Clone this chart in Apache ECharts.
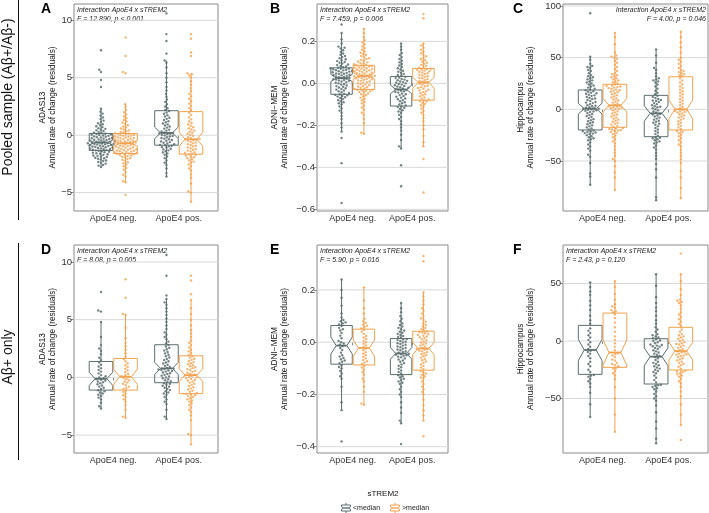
<!DOCTYPE html>
<html><head><meta charset="utf-8">
<script src="https://cdn.jsdelivr.net/npm/echarts@6/dist/echarts.min.js"></script>
<style>html,body{margin:0;padding:0;background:#fff}#c{width:709px;height:513px}</style>
</head><body><div id="c"></div>
<script>
// ---------- categories / labels ----------
const groupNames = ['ApoE4 neg.', 'ApoE4 pos.'];
const legendTitle = 'sTREM2';
const legendLabels = ['<median', '>median'];
const rowLabels = ['Pooled sample (A\u03b2+/A\u03b2-)', 'A\u03b2+ only'];
const yTitles = ['ADAS13', 'ADNI\u2212MEM', 'Hippocampus'];
const yTitleSub = 'Annual rate of change (residuals)';
const annTitle = 'Interaction ApoE4 x sTREM2';
const annStats = ['F = 12.890, p < 0.001', 'F = 7.459, p = 0.006', 'F = 4.00, p = 0.046',
                  'F = 8.08, p = 0.005', 'F = 5.90, p = 0.016', 'F = 2.43, p = 0.120'];
const panelLetters = ['A', 'B', 'C', 'D', 'E', 'F'];

// ---------- tick values ----------
const ticksAdas = [-5, 0, 5, 10];
const ticksMem = [-0.6, -0.4, -0.2, 0, 0.2];
const ticksMemE = [-0.4, -0.2, 0, 0.2];
const ticksHippoC = [-50, 0, 50, 100];
const ticksHippoF = [-50, 0, 50];

// ---------- A: ADAS13, pooled ----------
const aNegLow = [-2.78,-2.65,-2.6,-2.48,-2.41,-2.33,-2.25,-2.2,-2.12,-2.05,-2.01,-1.96,-1.9,-1.86,-1.8,-1.77,-1.71,-1.66,-1.62,-1.57,-1.52,-1.48,-1.44,-1.4,-1.36,
 -1.32,-1.3,-1.26,-1.23,-1.2,-1.17,-1.15,-1.11,-1.08,-1.05,-1.02,-0.99,-0.96,-0.94,-0.91,-0.88,-0.85,-0.82,-0.8,-0.77,-0.75,-0.72,-0.7,-0.68,-0.66,
 -0.63,-0.6,-0.57,-0.55,-0.52,-0.49,-0.46,-0.42,-0.4,-0.37,-0.33,-0.3,-0.27,-0.24,-0.2,-0.17,-0.13,-0.1,-0.06,-0.03,0.01,0.04,0.07,0.1,0.13,
 0.18,0.22,0.27,0.36,0.42,0.48,0.55,0.61,0.7,0.78,0.86,0.95,1.04,1.15,1.27,1.4,1.55,1.7,1.88,2.05,2.3,4.2,4.8,5.5,5.7,7.4];
const aNegHigh = [-5.2,-4.1,-4.0,-3.6,-3.45,-3.2,-3.0,-2.85,-2.7,-2.55,-2.45,-2.35,-2.25,-2.15,-2.08,-2.0,-1.93,-1.88,-1.82,-1.77,-1.72,-1.68,-1.65,-1.62,-1.6,
 -1.57,-1.53,-1.5,-1.47,-1.43,-1.4,-1.36,-1.33,-1.3,-1.26,-1.22,-1.19,-1.15,-1.12,-1.08,-1.04,-1.0,-0.97,-0.93,-0.9,-0.86,-0.82,-0.79,-0.75,-0.72,
 -0.69,-0.66,-0.62,-0.59,-0.55,-0.52,-0.48,-0.45,-0.41,-0.38,-0.34,-0.31,-0.27,-0.24,-0.2,-0.17,-0.13,-0.1,-0.06,-0.03,0.0,0.04,0.07,0.1,0.13,
 0.18,0.23,0.29,0.35,0.42,0.5,0.58,0.67,0.76,0.86,0.97,1.08,1.2,1.33,1.47,1.62,1.8,2.0,2.2,2.45,2.7,5.4,5.5,6.9,8.5];
const aPosLow = [-3.6,-3.3,-2.9,-2.6,-2.4,-2.2,-2.0,-1.85,-1.7,-1.6,-1.5,-1.4,-1.32,-1.25,-1.18,-1.1,-1.03,-0.97,-0.92,-0.88,
 -0.84,-0.78,-0.72,-0.66,-0.6,-0.54,-0.48,-0.42,-0.36,-0.3,-0.24,-0.18,-0.12,-0.07,-0.02,0.04,0.09,0.13,0.16,0.19,
 0.23,0.32,0.4,0.48,0.57,0.66,0.75,0.84,0.93,1.02,1.12,1.22,1.32,1.42,1.52,1.62,1.74,1.86,1.98,2.1,
 2.2,2.35,2.5,2.7,2.9,3.1,3.35,3.6,3.9,4.2,4.6,5.0,5.4,5.9,6.3,6.5,7.1,8.2,8.8,10.6];
const aPosHigh = [-5.8,-5.0,-4.9,-4.2,-3.7,-3.4,-3.1,-2.9,-2.7,-2.55,-2.4,-2.3,-2.2,-2.1,-2.0,-1.92,-1.85,-1.78,-1.72,-1.67,
 -1.62,-1.55,-1.48,-1.41,-1.34,-1.27,-1.2,-1.13,-1.06,-0.99,-0.92,-0.85,-0.78,-0.71,-0.64,-0.57,-0.5,-0.45,-0.4,-0.36,
 -0.33,-0.24,-0.15,-0.06,0.03,0.12,0.21,0.3,0.4,0.5,0.6,0.7,0.82,0.94,1.06,1.2,1.38,1.55,1.75,1.95,
 2.15,2.35,2.55,2.75,2.95,3.15,3.4,3.6,3.85,4.1,4.4,4.7,5.0,5.2,5.3,5.4,6.9,7.2,8.4,8.8];
// box stats: [lower whisker, q1, median, q3, upper whisker, notch low, notch high]
const aBoxNegLow = [-2.8, -1.33, -0.64, 0.15, 2.3, -0.85, -0.43];
const aBoxNegHigh = [-4.1, -1.6, -0.7, 0.15, 2.7, -0.95, -0.45];
const aBoxPosLow = [-3.6, -0.87, 0.2, 2.13, 6.5, -0.3, 0.7];
const aBoxPosHigh = [-5.8, -1.65, -0.35, 2.05, 5.4, -0.95, 0.25];

// ---------- B: ADNI-MEM, pooled ----------
const bNegLow = [-0.57,-0.38,-0.26,-0.23,-0.21,-0.19,-0.17,-0.155,-0.14,-0.13,-0.12,-0.11,-0.1,-0.095,-0.09,-0.085,-0.08,-0.075,-0.07,-0.066,-0.063,-0.06,-0.057,-0.055,-0.053,
 -0.05,-0.046,-0.042,-0.038,-0.034,-0.03,-0.027,-0.023,-0.02,-0.016,-0.013,-0.01,-0.006,-0.003,0.0,0.003,0.006,0.009,0.012,0.014,0.016,0.018,0.02,0.022,0.024,
 0.026,0.029,0.031,0.033,0.036,0.038,0.04,0.041,0.044,0.046,0.047,0.05,0.052,0.053,0.056,0.058,0.059,0.062,0.063,0.065,0.067,0.069,0.07,0.072,0.074,
 0.077,0.08,0.083,0.087,0.09,0.094,0.098,0.102,0.106,0.11,0.115,0.12,0.125,0.13,0.136,0.142,0.15,0.158,0.166,0.17,0.175,0.19,0.21,0.24,0.28];
const bNegHigh = [-0.24,-0.235,-0.19,-0.17,-0.15,-0.14,-0.125,-0.115,-0.105,-0.095,-0.088,-0.08,-0.074,-0.068,-0.062,-0.057,-0.052,-0.048,-0.044,-0.041,-0.038,-0.035,-0.033,-0.031,-0.03,
 -0.027,-0.024,-0.021,-0.018,-0.015,-0.012,-0.009,-0.006,-0.003,0.0,0.003,0.006,0.009,0.012,0.014,0.017,0.019,0.021,0.024,0.026,0.028,0.03,0.031,0.033,0.034,
 0.036,0.038,0.04,0.042,0.045,0.047,0.049,0.051,0.054,0.056,0.058,0.06,0.062,0.064,0.066,0.068,0.07,0.072,0.074,0.076,0.078,0.08,0.082,0.084,0.085,
 0.088,0.091,0.094,0.097,0.1,0.104,0.108,0.112,0.116,0.12,0.125,0.13,0.135,0.14,0.146,0.152,0.16,0.168,0.176,0.185,0.195,0.205,0.22,0.24,0.26];
const bPosLow = [-0.49,-0.39,-0.31,-0.3,-0.27,-0.245,-0.225,-0.21,-0.195,-0.18,-0.17,-0.16,-0.15,-0.14,-0.134,-0.128,-0.122,-0.117,-0.113,-0.11,
 -0.105,-0.1,-0.095,-0.09,-0.085,-0.08,-0.076,-0.072,-0.068,-0.064,-0.06,-0.056,-0.052,-0.048,-0.044,-0.041,-0.038,-0.035,-0.032,-0.03,
 -0.027,-0.024,-0.021,-0.018,-0.015,-0.012,-0.009,-0.006,-0.003,0.0,0.003,0.006,0.009,0.012,0.015,0.018,0.021,0.025,0.028,0.031,
 0.036,0.04,0.045,0.05,0.055,0.06,0.066,0.072,0.078,0.085,0.092,0.1,0.108,0.116,0.125,0.135,0.145,0.16,0.175,0.19];
const bPosHigh = [-0.52,-0.36,-0.3,-0.28,-0.25,-0.22,-0.2,-0.18,-0.165,-0.15,-0.14,-0.13,-0.12,-0.11,-0.104,-0.098,-0.092,-0.087,-0.084,-0.081,
 -0.077,-0.072,-0.067,-0.062,-0.057,-0.052,-0.047,-0.042,-0.038,-0.034,-0.03,-0.026,-0.022,-0.018,-0.014,-0.01,-0.006,-0.002,0.002,0.004,
 0.008,0.012,0.016,0.02,0.024,0.027,0.031,0.034,0.038,0.041,0.045,0.048,0.052,0.055,0.058,0.061,0.064,0.066,0.068,0.07,
 0.074,0.078,0.083,0.088,0.093,0.098,0.104,0.11,0.116,0.122,0.129,0.136,0.144,0.152,0.16,0.17,0.18,0.19,0.31,0.33];
const bBoxNegLow = [-0.23, -0.052, 0.025, 0.074, 0.24, 0.008, 0.043];
const bBoxNegHigh = [-0.24, -0.029, 0.035, 0.086, 0.26, 0.02, 0.052];
const bBoxPosLow = [-0.31, -0.108, -0.029, 0.033, 0.19, -0.05, -0.008];
const bBoxPosHigh = [-0.30, -0.08, 0.005, 0.071, 0.19, -0.024, 0.028];

// ---------- C: Hippocampus, pooled ----------
const cNegLow = [-73,-65,-62,-52,-46,-44,-40,-38,-36,-34,-32,-30,-29,-28,-27,-26,-25,-24,-23.5,-23,-22.5,-22,-21.5,-21,-20.5,
 -19.5,-18.5,-17.5,-16.5,-15.5,-14.5,-13.5,-12.5,-11.5,-10.5,-9.5,-8.5,-7.5,-6.5,-5.5,-4.5,-3.5,-2.5,-2,-1.5,-1,-0.5,0,0.3,0.5,
 1,1.5,2,3,3.5,4,5,6,6.5,7,8,9,10,10.5,11,12,13,13.5,14,15,15.5,16,17,17.5,18.5,
 19,20,21,22,23,24,25,26,27,28,29,30,31,32,33,35,37,38,40,41,42,44,48,51,93];
const cNegHigh = [-78,-66,-61,-55,-50,-48,-45,-42,-39,-36,-33,-31,-29,-27,-25.5,-24,-23,-22,-21,-20.5,-20,-19.5,-19,-18.5,-18,
 -17,-16,-15,-14,-13,-12,-11,-10,-9,-8,-7,-6,-5,-4,-3,-2,-1,0,0.5,1,1.5,2,2.5,3,3.5,
 4.5,5.5,6.5,7.5,8.5,9.5,10.5,11.5,12.5,13.5,14.5,15.5,16.5,17,18,18.5,19,20,20.5,21,21.5,22,22.5,23,24,
 25,26,27,28,29,30,31,32,33,34,35,37,39,41,43,45,47,49,50,51,52,55,63,70,74];
const cPosLow = [-88,-85,-66,-58,-53,-48,-45,-42,-39,-37,-35,-33,-32,-31,-30,-29,-28,-27.5,-27,
 -25.5,-24,-22.5,-21,-19.5,-18,-16.5,-15,-14,-13,-12,-11,-10,-9,-8,-7,-6,-5,-4.5,
 -3,-2,-1,0,1,2,2.5,3,4,5,6,7,8,8.5,9,10,11,12,13,
 14.5,16,18,20,22,24,26,27,28,29,30,32,35,38,40,45,52,58];
const cPosHigh = [-86,-76,-66,-60,-52,-48,-45,-42,-39,-36,-34,-32,-30,-28,-26,-24.5,-23,-22,-21,
 -19,-17.5,-16,-14.5,-13,-11.5,-10,-9,-8,-7,-6,-5,-4,-3,-2.5,-2,-1.5,-1,-0.5,
 1,2.5,4,5.5,7,8.5,10,11.5,13,14.5,16,17.5,19,20.5,22,24,26,28,30,
 32,33,34,35,36,37,38,40,42,44,46,48,50,55,60,65,70,75];
const cBoxNegLow = [-73, -20, 0.6, 18.7, 51, -4.5, 5.8];
const cBoxNegHigh = [-78, -17.4, 3.9, 24.2, 74, -2.5, 10.5];
const cBoxPosLow = [-88, -26.5, -3.9, 13.5, 58, -11.5, 3.5];
const cBoxPosHigh = [-86, -20, 0, 31.5, 75, -9, 9];

// ---------- D: ADAS13, Abeta+ only ----------
const dNegLow = [-2.7,-2.5,-2.2,-1.9,-1.75,-1.6,-1.5,-1.4,-1.3,-1.2,-1.12,
 -1.0,-0.9,-0.8,-0.7,-0.6,-0.5,-0.42,-0.35,-0.28,-0.2,-0.14,
 -0.08,0.0,0.1,0.2,0.35,0.5,0.65,0.8,0.95,1.1,1.3,
 1.5,1.7,2.0,2.3,2.5,2.8,3.5,4.8,5.7,5.8,7.4];
const dNegHigh = [-3.5,-3.4,-2.8,-2.4,-2.1,-1.9,-1.7,-1.55,-1.4,-1.25,-1.15,
 -1.0,-0.9,-0.8,-0.65,-0.55,-0.45,-0.35,-0.25,-0.15,-0.05,0.03,
 0.1,0.2,0.3,0.45,0.6,0.75,0.9,1.05,1.2,1.4,1.6,
 1.8,2.1,2.4,2.7,3.0,3.4,4.3,5.4,5.5,6.9,8.5];
const dPosLow = [-3.6,-3.4,-2.8,-2.3,-2.1,-1.9,-1.7,-1.5,-1.4,-1.3,-1.2,-1.1,-1.0,-0.9,-0.8,-0.72,-0.64,-0.56,-0.5,
 -0.4,-0.32,-0.24,-0.16,-0.08,0.0,0.08,0.15,0.22,0.29,0.36,0.43,0.5,0.55,0.6,0.64,0.68,0.72,0.76,
 0.82,0.9,1.0,1.1,1.2,1.3,1.4,1.5,1.6,1.72,1.84,1.96,2.08,2.2,2.32,2.44,2.56,2.68,2.8,
 2.95,3.1,3.3,3.5,3.7,3.9,4.2,4.5,4.8,5.1,5.4,5.7,6.0,6.3,6.5,6.8,7.1,8.8,10.6];
const dPosHigh = [-5.8,-5.0,-4.9,-3.7,-3.3,-3.0,-2.8,-2.6,-2.4,-2.25,-2.1,-2.0,-1.9,-1.8,-1.7,-1.62,-1.55,-1.48,-1.43,
 -1.35,-1.25,-1.15,-1.05,-0.95,-0.85,-0.75,-0.65,-0.55,-0.45,-0.35,-0.27,-0.2,-0.13,-0.06,0.0,0.06,0.12,0.17,
 0.24,0.32,0.4,0.48,0.56,0.64,0.72,0.8,0.88,0.96,1.05,1.14,1.23,1.32,1.42,1.52,1.62,1.72,1.84,
 1.95,2.1,2.25,2.4,2.6,2.8,3.0,3.2,3.5,3.8,4.1,4.5,5.0,5.5,6.0,6.7,7.2,8.4,8.8];
const dBoxNegLow = [-2.7, -1.1, -0.12, 1.38, 4.8, -0.7, 0.45];
const dBoxNegHigh = [-3.5, -1.1, 0.06, 1.64, 5.5, -0.6, 0.7];
const dBoxPosLow = [-3.6, -0.46, 0.78, 2.83, 6.8, 0.25, 1.3];
const dBoxPosHigh = [-5.8, -1.41, 0.2, 1.87, 6.7, -0.35, 0.75];

// ---------- E: ADNI-MEM, Abeta+ only ----------
const eNegLow = [-0.38,-0.26,-0.23,-0.17,-0.14,-0.13,-0.12,-0.11,-0.1,-0.095,-0.088,
 -0.08,-0.075,-0.07,-0.065,-0.06,-0.055,-0.05,-0.04,-0.03,-0.022,-0.015,
 -0.01,-0.005,0.0,0.005,0.015,0.025,0.035,0.045,0.05,0.055,0.062,
 0.068,0.072,0.076,0.08,0.085,0.095,0.11,0.14,0.17,0.2,0.24];
const eNegHigh = [-0.24,-0.235,-0.19,-0.17,-0.15,-0.14,-0.125,-0.115,-0.105,-0.097,-0.09,
 -0.083,-0.078,-0.073,-0.068,-0.062,-0.056,-0.05,-0.044,-0.038,-0.031,-0.025,
 -0.018,-0.012,-0.006,0.0,0.006,0.012,0.018,0.024,0.032,0.04,0.047,
 0.053,0.058,0.063,0.068,0.074,0.08,0.09,0.11,0.13,0.16,0.21];
const ePosLow = [-0.39,-0.31,-0.3,-0.27,-0.25,-0.23,-0.21,-0.2,-0.19,-0.18,-0.17,-0.16,-0.155,-0.15,-0.145,-0.14,-0.135,-0.13,-0.126,
 -0.12,-0.114,-0.108,-0.102,-0.096,-0.09,-0.085,-0.08,-0.075,-0.07,-0.066,-0.062,-0.058,-0.055,-0.052,-0.05,-0.048,-0.046,-0.044,
 -0.04,-0.037,-0.034,-0.031,-0.028,-0.025,-0.022,-0.019,-0.016,-0.013,-0.01,-0.007,-0.004,-0.001,0.002,0.005,0.008,0.01,0.012,
 0.017,0.02,0.024,0.028,0.032,0.036,0.04,0.045,0.05,0.055,0.06,0.066,0.072,0.08,0.09,0.1,0.115,0.13,0.15];
const ePosHigh = [-0.36,-0.3,-0.28,-0.26,-0.24,-0.22,-0.2,-0.19,-0.18,-0.17,-0.16,-0.15,-0.14,-0.135,-0.13,-0.125,-0.12,-0.115,-0.11,
 -0.103,-0.097,-0.091,-0.085,-0.079,-0.074,-0.069,-0.064,-0.059,-0.054,-0.05,-0.046,-0.042,-0.038,-0.035,-0.032,-0.029,-0.027,-0.025,
 -0.021,-0.017,-0.013,-0.009,-0.005,-0.001,0.003,0.007,0.011,0.015,0.019,0.022,0.025,0.028,0.031,0.034,0.037,0.039,0.041,
 0.045,0.05,0.055,0.06,0.066,0.072,0.078,0.085,0.092,0.1,0.11,0.12,0.13,0.145,0.16,0.175,0.19,0.31,0.33];
const eBoxNegLow = [-0.26, -0.084, -0.013, 0.064, 0.24, -0.045, 0.02];
const eBoxNegHigh = [-0.24, -0.087, -0.022, 0.05, 0.21, -0.055, 0.008];
const eBoxPosLow = [-0.31, -0.124, -0.043, 0.014, 0.15, -0.065, -0.02];
const eBoxPosHigh = [-0.30, -0.107, -0.024, 0.042, 0.19, -0.048, 0.0];

// ---------- F: Hippocampus, Abeta+ only ----------
const fNegLow = [-66,-55,-45,-40,-37,-35,-33,-31,-30,-29.5,
 -27,-25,-22,-20,-18,-15,-13,-11,-9.5,-8.5,
 -7,-5,-3,-1,1,3,5,7,9,11,
 15,18,22,27,31,35,40,43,47,51];
const fNegHigh = [-79,-64,-50,-40,-33,-30,-28,-26,-24,-23.5,
 -22,-21,-20,-19,-17,-16,-14,-12.5,-11.5,-10.5,
 -8,-5,-2,1,4,8,12,16,20,23,
 25,26,27,29,30,32,36,41,47,52];
const fPosLow = [-89,-85,-76,-70,-62,-56,-52,-50,-48,-46,-44,-42,-41,-40,-39,-38.5,-38,
 -36,-34,-32,-30,-28,-27,-26,-25,-24,-23,-22,-21,-20,-19,-18,-16.5,-15,-14,
 -13,-12,-11,-10,-9,-8,-7,-6,-5,-4.5,-4,-3.5,-3,-2,-1,0,0.5,1.5,
 2.5,3,4,5,6,8,10,12,15,18,22,26,29,33,38,48,58];
const fPosHigh = [-86,-73,-64,-55,-48,-44,-40,-37,-35,-33,-31,-30,-29,-28,-27,-26.5,-26,
 -24,-22.5,-21,-20,-19,-18,-17,-16,-15,-14,-13,-12.5,-12,-11.5,-11,-10,-9.5,-9,
 -8,-7,-6,-5,-4,-3,-2.5,-2,-1,0,1,2,3,4,5,6,8,10,
 13,15,17,19,21,23,25,28,31,33,34,35,36,40,45,52,58,76];
const fBoxNegLow = [-66, -29, -7.8, 13.6, 51, -17, 1.5];
const fBoxNegHigh = [-79, -22.9, -10, 24.3, 52, -21, 1];
const fBoxPosLow = [-89, -37.4, -13.6, 2, 58, -21.5, -6];
const fBoxPosHigh = [-73, -25.2, -8.7, 11.9, 58, -16.5, -1];

// ---------- styling / layout ----------
const COLS = ['#5b6e6e', '#f2a24f'];
const PT_COLS = ['#5a6d6d', '#f4a85a'];
const FONT = "'Liberation Sans', Arial, Helvetica, sans-serif";
const GROUP_X = [0.8125, 1.1875, 1.8125, 2.1875];
const BOXW = 0.36;
const SPACING = 2.9;

const panels = [
  {left:74, top:4, width:144, height:207, min:-6.6, max:11.42, ticks:ticksAdas, dec:0, yt:0, gap:15, annRight:false,
   pts:[aNegLow,aNegHigh,aPosLow,aPosHigh], box:[aBoxNegLow,aBoxNegHigh,aBoxPosLow,aBoxPosHigh], lx:41, ly:2},
  {left:317, top:4, width:131, height:207, min:-0.608, max:0.378, ticks:ticksMem, dec:1, yt:1, gap:28, annRight:false,
   pts:[bNegLow,bNegHigh,bPosLow,bPosHigh], box:[bBoxNegLow,bBoxNegHigh,bBoxPosLow,bBoxPosHigh], lx:270, ly:2},
  {left:563, top:4, width:145, height:207, min:-98.4, max:101.9, ticks:ticksHippoC, dec:0, yt:2, gap:28, annRight:true,
   pts:[cNegLow,cNegHigh,cPosLow,cPosHigh], box:[cBoxNegLow,cBoxNegHigh,cBoxPosLow,cBoxPosHigh], lx:513, ly:2},
  {left:74, top:245, width:144, height:208, min:-6.55, max:11.47, ticks:ticksAdas, dec:0, yt:0, gap:15, annRight:false,
   pts:[dNegLow,dNegHigh,dPosLow,dPosHigh], box:[dBoxNegLow,dBoxNegHigh,dBoxPosLow,dBoxPosHigh], lx:41, ly:243},
  {left:317, top:245, width:131, height:208, min:-0.424, max:0.372, ticks:ticksMemE, dec:1, yt:1, gap:28, annRight:false,
   pts:[eNegLow,eNegHigh,ePosLow,ePosHigh], box:[eBoxNegLow,eBoxNegHigh,eBoxPosLow,eBoxPosHigh], lx:270, ly:243},
  {left:563, top:245, width:145, height:208, min:-97.4, max:83.5, ticks:ticksHippoF, dec:0, yt:2, gap:28, annRight:false,
   pts:[fNegLow,fNegHigh,fPosLow,fPosHigh], box:[fBoxNegLow,fBoxNegHigh,fBoxPosLow,fBoxPosHigh], lx:513, ly:243}
];

function fmt(v, dec) {
  const s = Math.abs(v).toFixed(dec);
  return (v < -1e-9 ? '\u2212' : '') + s;
}

// beeswarm layout in pixel space (returns horizontal pixel offsets)
function swarm(ys, d) {
  const idx = ys.map((v, i) => i).sort((a, b) => ys[a] - ys[b]);
  const placed = [];
  const out = new Array(ys.length);
  idx.forEach(i => {
    const y = ys[i];
    const near = placed.filter(p => Math.abs(p.y - y) < d);
    const cands = [0];
    near.forEach(p => {
      const dx = Math.sqrt(Math.max(0, d * d - (p.y - y) * (p.y - y)));
      cands.push(p.x + dx, p.x - dx);
    });
    cands.sort((a, b) => Math.abs(a) - Math.abs(b) || a - b);
    let best = 0;
    for (const c of cands) {
      if (near.every(p => (p.x - c) * (p.x - c) + (p.y - y) * (p.y - y) >= d * d - 1e-6)) { best = c; break; }
    }
    placed.push({x: best, y});
    out[i] = best;
  });
  return out;
}

const grid = [], xAxis = [], yAxis = [], series = [], graphic = [];

panels.forEach((p, i) => {
  grid.push({left: p.left, top: p.top, width: p.width, height: p.height, show: true,
    borderColor: '#8a8a8a', borderWidth: 1, backgroundColor: 'rgba(0,0,0,0)'});
  xAxis.push({type: 'value', gridIndex: i, min: 0.4, max: 2.6,
    axisLine: {show: false}, splitLine: {show: false},
    axisTick: {show: true, customValues: [1, 2], length: 3, lineStyle: {color: '#8a8a8a'}},
    axisLabel: {customValues: [1, 2], formatter: v => groupNames[Math.round(v) - 1],
      fontSize: 9, fontFamily: FONT, color: '#333', margin: 3}});
  yAxis.push({type: 'value', gridIndex: i, min: p.min, max: p.max,
    axisLine: {show: false}, splitLine: {show: false},
    axisTick: {show: true, customValues: p.ticks, length: 3, lineStyle: {color: '#8a8a8a'}},
    axisLabel: {customValues: p.ticks, formatter: v => fmt(v, p.dec), fontSize: 9.5, fontFamily: FONT, color: '#333', margin: 2},
    name: yTitles[p.yt] + '\n' + yTitleSub, nameLocation: 'middle', nameRotate: 90, nameGap: p.gap,
    nameTextStyle: {fontSize: 8.3, lineHeight: 9.5, fontFamily: FONT, color: '#111', align: 'center'}});

  // horizontal grid lines at the tick values
  series.push({type: 'custom', xAxisIndex: i, yAxisIndex: i, silent: true, z: 1,
    data: p.ticks.map(t => [1.5, t]),
    renderItem: (params, api) => {
      const a = api.coord([0.4, api.value(1)]);
      const b = api.coord([2.6, api.value(1)]);
      return {type: 'line', shape: {x1: a[0], y1: a[1], x2: b[0], y2: b[1]},
        style: {stroke: '#d9d9d9', lineWidth: 1}};
    }});

  // beeswarm points
  const pxPerX = p.width / 2.2, pxPerY = p.height / (p.max - p.min);
  p.pts.forEach((arr, g) => {
    const offs = swarm(arr.map(v => v * pxPerY), SPACING);
    series.push({type: 'scatter', xAxisIndex: i, yAxisIndex: i, silent: true, z: 2,
      symbol: 'circle', symbolSize: 2.4,
      itemStyle: {color: PT_COLS[g % 2], opacity: 0.85},
      data: arr.map((v, k) => [GROUP_X[g] + offs[k] / pxPerX, v])});
  });

  // notched boxplots
  series.push({type: 'custom', xAxisIndex: i, yAxisIndex: i, silent: true, z: 3,
    data: p.box.map((b, g) => [GROUP_X[g]].concat(b, [g % 2])),
    renderItem: (params, api) => {
      const x = api.value(0);
      const c = COLS[api.value(8)];
      const Y = k => api.coord([x, api.value(k)])[1];
      const cx = api.coord([x, 0])[0];
      const w = api.size([BOXW, 0])[0];
      const hw = w / 2, nw = w / 4;
      const ylo = Y(1), yq1 = Y(2), ymd = Y(3), yq3 = Y(4), yhi = Y(5), ynl = Y(6), ynh = Y(7);
      return {type: 'group', children: [
        {type: 'line', shape: {x1: cx, y1: yq3, x2: cx, y2: yhi}, style: {stroke: c, lineWidth: 1}},
        {type: 'line', shape: {x1: cx, y1: yq1, x2: cx, y2: ylo}, style: {stroke: c, lineWidth: 1}},
        {type: 'polygon', shape: {points: [[cx - hw, yq1], [cx - hw, ynl], [cx - nw, ymd], [cx - hw, ynh], [cx - hw, yq3],
          [cx + hw, yq3], [cx + hw, ynh], [cx + nw, ymd], [cx + hw, ynl], [cx + hw, yq1]]},
          style: {stroke: c, fill: 'none', lineWidth: 1}},
        {type: 'line', shape: {x1: cx - nw, y1: ymd, x2: cx + nw, y2: ymd}, style: {stroke: c, lineWidth: 1.8}}
      ]};
    }});

  // annotation
  graphic.push({type: 'text', x: p.annRight ? p.left + p.width - 2 : p.left + 3, y: p.top + 2, silent: true,
    style: {text: annTitle + '\n' + annStats[i], fontSize: 7, fontStyle: 'italic', fontFamily: FONT, lineHeight: 8.5,
      fill: '#222', align: p.annRight ? 'right' : 'left', verticalAlign: 'top'}});
  // panel letter
  graphic.push({type: 'text', x: p.lx, y: p.ly, silent: true,
    style: {text: panelLetters[i], fontSize: 14, fontWeight: 'bold', fontFamily: FONT, fill: '#000', align: 'left', verticalAlign: 'top'}});
});

// row labels and separators
graphic.push({type: 'text', x: 8, y: 97, rotation: Math.PI / 2, silent: true,
  style: {text: rowLabels[0], fontSize: 14, fontFamily: FONT, fill: '#111', align: 'center', verticalAlign: 'middle'}});
graphic.push({type: 'text', x: 8, y: 357, rotation: Math.PI / 2, silent: true,
  style: {text: rowLabels[1], fontSize: 14, fontFamily: FONT, fill: '#111', align: 'center', verticalAlign: 'middle'}});
graphic.push({type: 'line', silent: true, shape: {x1: 18.5, y1: 0, x2: 18.5, y2: 220}, style: {stroke: '#111', lineWidth: 1}});
graphic.push({type: 'line', silent: true, shape: {x1: 18.5, y1: 243, x2: 18.5, y2: 460}, style: {stroke: '#111', lineWidth: 1}});

// legend
graphic.push({type: 'text', x: 383, y: 494, silent: true,
  style: {text: legendTitle, fontSize: 8, fontFamily: FONT, fill: '#111', align: 'center', verticalAlign: 'middle'}});
function keyGlyph(cx, cy, c) {
  return {type: 'group', silent: true, children: [
    {type: 'line', shape: {x1: cx, y1: cy - 5, x2: cx, y2: cy + 5}, style: {stroke: c, lineWidth: 1}},
    {type: 'polygon', shape: {points: [[cx - 4.5, cy + 3], [cx - 4.5, cy + 1.2], [cx - 2.2, cy], [cx - 4.5, cy - 1.2], [cx - 4.5, cy - 3],
      [cx + 4.5, cy - 3], [cx + 4.5, cy - 1.2], [cx + 2.2, cy], [cx + 4.5, cy + 1.2], [cx + 4.5, cy + 3]]},
      style: {stroke: c, fill: '#fff', lineWidth: 1}},
    {type: 'line', shape: {x1: cx - 2.2, y1: cy, x2: cx + 2.2, y2: cy}, style: {stroke: c, lineWidth: 1.4}}
  ]};
}
graphic.push(keyGlyph(346, 508, COLS[0]));
graphic.push({type: 'text', x: 353, y: 508, silent: true,
  style: {text: legendLabels[0], fontSize: 7, fontFamily: FONT, fill: '#222', align: 'left', verticalAlign: 'middle'}});
graphic.push(keyGlyph(395, 508, COLS[1]));
graphic.push({type: 'text', x: 402, y: 508, silent: true,
  style: {text: legendLabels[1], fontSize: 7, fontFamily: FONT, fill: '#222', align: 'left', verticalAlign: 'middle'}});

const chart = echarts.init(document.getElementById('c'), null, {renderer: 'canvas'});
chart.setOption({animation: false, backgroundColor: '#fff', grid, xAxis, yAxis, series, graphic});
</script></body></html>
